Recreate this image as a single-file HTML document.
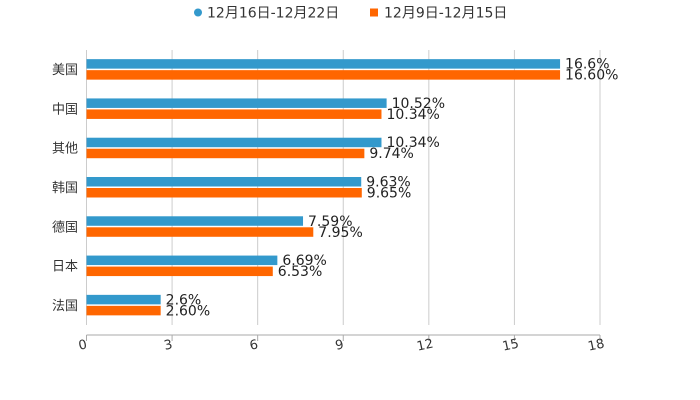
<!DOCTYPE html>
<html><head><meta charset="utf-8"><style>
body{margin:0;background:#fff;}
svg{display:block;font-family:"DejaVu Sans","Noto Sans CJK SC",sans-serif;}
</style></head><body>
<svg id="chart" width="700" height="400">
<g>
  <g><circle cx="198" cy="12.5" r="4" fill="#3399cc"/><text x="207" y="17.5" font-size="14" fill="#333">12月16日-12月22日</text></g>
  <g><rect x="370" y="8.5" width="8" height="8" fill="#ff6600"/><text x="384" y="17.5" font-size="14" fill="#333">12月9日-12月15日</text></g>
</g>
<g id="grid"></g><g id="bars"></g><g id="axis"></g>
</svg>
<script>
const categories=["美国","中国","其他","韩国","德国","日本","法国"];
const seriesA=[16.6,10.52,10.34,9.63,7.59,6.69,2.6];
const labelsA=["16.6%","10.52%","10.34%","9.63%","7.59%","6.69%","2.6%"];
const seriesB=[16.60,10.34,9.74,9.65,7.95,6.53,2.60];
const labelsB=["16.60%","10.34%","9.74%","9.65%","7.95%","6.53%","2.60%"];
const ticks=[0,3,6,9,12,15,18];
const NS="http://www.w3.org/2000/svg";
const x0=86.5,x1=600,yTop=50,yBottom=325;
const xs=v=>x0+(v/18)*(x1-x0);
const band=(yBottom-yTop)/categories.length;
function mk(t,a,p){const e=document.createElementNS(NS,t);for(const k in a)e.setAttribute(k,a[k]);(p||document.getElementById('chart')).appendChild(e);return e;}
const g=document.getElementById('grid'),b=document.getElementById('bars'),ax=document.getElementById('axis');
ticks.forEach(t=>{
  const l=mk('line',{x1:xs(t),x2:xs(t),y1:yTop,y2:yBottom,stroke:'#ccc','stroke-width':1},g);
  
  
  const tk=mk('line',{x1:xs(t),x2:xs(t),y1:335,y2:341,stroke:'#aaa'},ax);
  
  
  const tx=mk('text',{x:xs(t)-3,y:349,'font-size':13,fill:'#333','text-anchor':'middle',transform:`rotate(-12 ${xs(t)-3} 349)`},ax);
  tx.textContent=t;
  
  
});
const axl=mk('line',{x1:x0,x2:x1,y1:335,y2:335,stroke:'#aaa'},ax);


categories.forEach((c,i)=>{
  const cy=yTop+band*(i+0.5)-0.5;
  const cl=mk('text',{x:78,y:cy+5,'font-size':13,fill:'#333','text-anchor':'end'},ax);
  cl.textContent=c;
  
  
  const ra=mk('rect',{x:x0,y:cy-10,width:xs(seriesA[i])-x0,height:9.5,fill:'#3399cc'},b);
  
  
  const rb=mk('rect',{x:x0,y:cy+1,width:xs(seriesB[i])-x0,height:9.5,fill:'#ff6600'},b);
  
  
  const ta=mk('text',{x:xs(seriesA[i])+5,y:cy-0.5,'font-size':14,fill:'#222'},b);
  ta.textContent=labelsA[i];
  
  
  const tb=mk('text',{x:xs(seriesB[i])+5,y:cy+10.5,'font-size':14,fill:'#222'},b);
  tb.textContent=labelsB[i];
  
  
});
</script>
</body></html>
